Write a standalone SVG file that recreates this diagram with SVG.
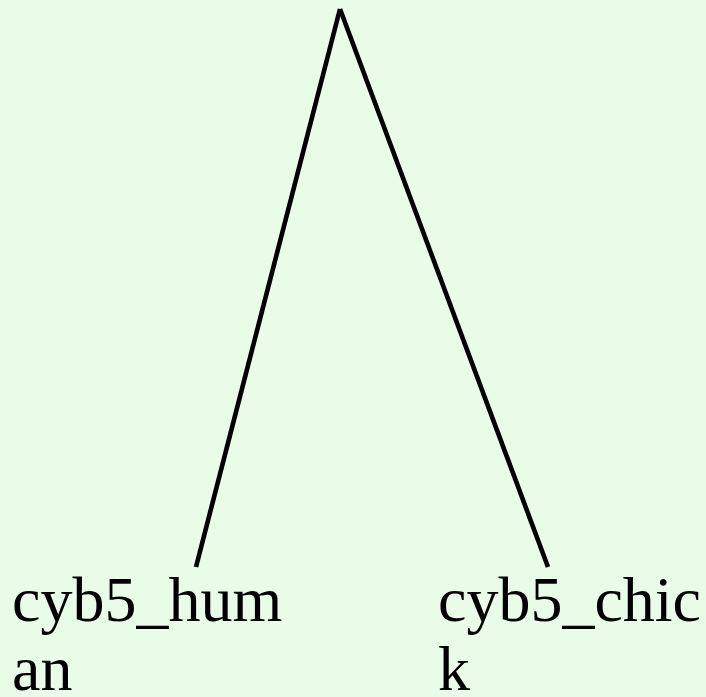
<svg xmlns="http://www.w3.org/2000/svg" width="706" height="697" viewBox="0 0 706 697">
<style>
.edge{stroke:#000;stroke-width:4.6;fill:none}
.lbl{font-family:"Liberation Serif","Times New Roman",serif;font-size:64px;fill:#000}
</style>
<rect width="706" height="697" fill="#e8fce8"/>
<g id="connectors">
<line class="edge" x1="340" y1="9" x2="196" y2="567"/>
<line class="edge" x1="340" y1="9" x2="548" y2="567"/>
</g>
<g id="node-human">
<text class="lbl" x="12" y="621">cyb5_hum</text>
<text class="lbl" x="12" y="690">an</text>
</g>
<g id="node-chick">
<text class="lbl" x="438" y="621">cyb5_chic</text>
<text class="lbl" x="438" y="690">k</text>
</g>
</svg>
